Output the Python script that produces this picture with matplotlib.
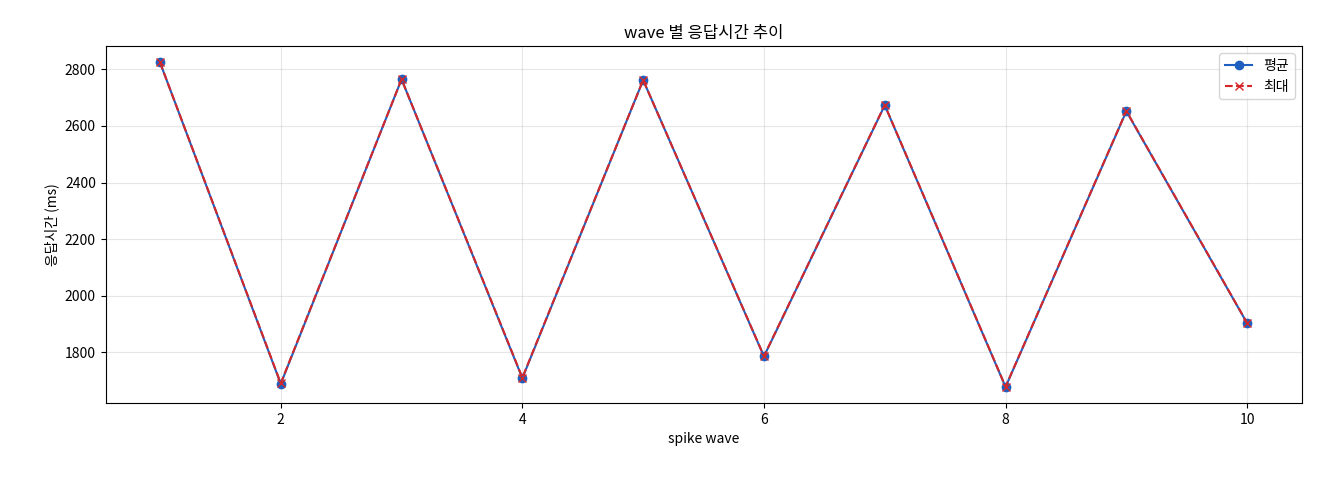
import matplotlib
matplotlib.use("Agg")
import matplotlib.pyplot as plt

plt.rcParams['font.family'] = ['Noto Sans CJK KR', 'DejaVu Sans']

waves = [1, 2, 3, 4, 5, 6, 7, 8, 9, 10]
avg_ms = [2825, 1688, 2765, 1708, 2762, 1785, 2673, 1677, 2652, 1902]
max_ms = [2825, 1690, 2765, 1710, 2762, 1786, 2674, 1678, 2653, 1903]

fig, ax = plt.subplots(figsize=(13.2, 4.8), dpi=100)
ax.plot(waves, avg_ms, '-o', color='#1f5fbf', label='평균', markersize=6)
ax.plot(waves, max_ms, '--x', color='#d62728', label='최대', markersize=6)
ax.set_title('wave 별 응답시간 추이')
ax.set_xlabel('spike wave')
ax.set_ylabel('응답시간 (ms)')
ax.grid(True, alpha=0.3)
ax.legend(loc='upper right')
fig.subplots_adjust(left=0.08, right=0.986, top=0.904, bottom=0.16)
fig.savefig('out.png')
